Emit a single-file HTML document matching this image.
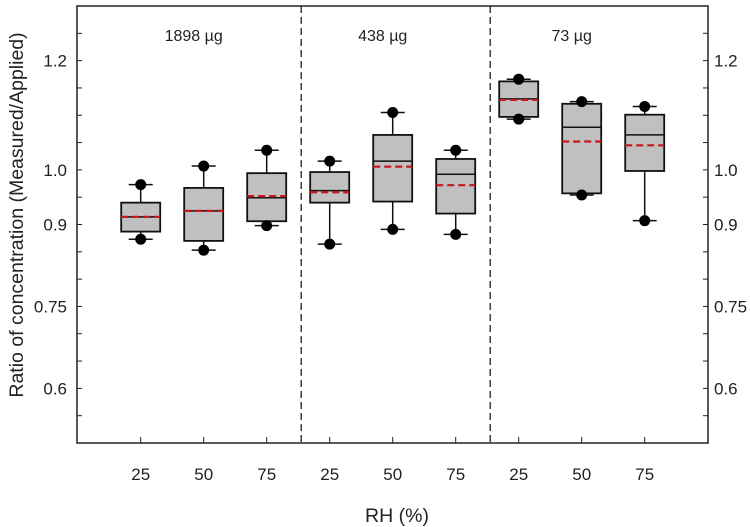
<!DOCTYPE html>
<html><head><meta charset="utf-8"><style>
body{margin:0;background:#fff}
svg{display:block;font-family:"Liberation Sans",sans-serif}
</style></head><body>
<svg id="chart" width="750" height="527"></svg>
<script>
const categories=["25","50","75","25","50","75","25","50","75"];
const groups=["1898 µg","438 µg","73 µg"];
const q1=[0.887,0.870,0.906,0.940,0.942,0.920,1.097,0.957,0.998];
const q3=[0.940,0.967,0.994,0.996,1.064,1.020,1.162,1.121,1.101];
const medians=[0.914,0.925,0.949,0.962,1.016,0.992,1.130,1.078,1.064];
const means=[0.914,0.925,0.952,0.959,1.006,0.972,1.128,1.052,1.045];
const whiskerHi=[0.973,1.007,1.036,1.016,1.105,1.036,1.166,1.125,1.116];
const whiskerLo=[0.873,0.853,0.898,0.864,0.891,0.882,1.093,0.954,0.907];
const yTickLabels=["0.6","0.75","0.9","1.0","1.2"];
const yTickValues=[0.6,0.75,0.9,1.0,1.2];

const NS="http://www.w3.org/2000/svg";
const svg=document.getElementById('chart');
const L=77,R=708,T=6,B=443;
const y=v=>T+(1.3-v)/(0.8)*(B-T);
const x=i=>140.7+63*i;
function el(tag,attrs,parent){const e=document.createElementNS(NS,tag);for(const k in attrs)e.setAttribute(k,attrs[k]);(parent||svg).appendChild(e);return e;}

const frame=el('rect',{x:L,y:T,width:R-L,height:B-T,fill:'none',stroke:'#222','stroke-width':1.5});



for(let k=0;k<=16;k++){
  const v=0.5+k*0.05; if(v<=0.5||v>=1.3) continue;
  const yy=y(v);
  const t1=el('line',{x1:L,x2:L+5,y1:yy,y2:yy,stroke:'#222','stroke-width':1});
  
  
  const t2=el('line',{x1:R-5,x2:R,y1:yy,y2:yy,stroke:'#222','stroke-width':1});
  
  
}
yTickLabels.forEach((lab,i)=>{
  const yy=y(yTickValues[i]);
  const a=el('text',{x:67,y:yy+6,'text-anchor':'end','font-size':17,fill:'#222'});a.textContent=lab;
  
  
  const b=el('text',{x:714,y:yy+6,'text-anchor':'start','font-size':17,fill:'#222'});b.textContent=lab;
  
  
});

categories.forEach((c,i)=>{
  const t=el('line',{x1:x(i),x2:x(i),y1:B-6,y2:B,stroke:'#222','stroke-width':1});
  
  
  const tx=el('text',{x:x(i),y:480,'text-anchor':'middle','font-size':17,fill:'#222'});tx.textContent=c;
  
  
});

[2.5,5.5].forEach(p=>{
  const d=el('line',{x1:x(p)+3,x2:x(p)+3,y1:T,y2:B,stroke:'#222','stroke-width':1.3,'stroke-dasharray':'7,4'});
  
  
});
groups.forEach((g,i)=>{
  const t=el('text',{x:x(i*3+1)-10,y:41,'text-anchor':'middle','font-size':16,fill:'#222'});t.textContent=g;
  
  
});

const hw=19.5;
categories.forEach((c,i)=>{
  const cx=x(i);
  const g=el('g',{});
  
  
  el('line',{x1:cx,x2:cx,y1:y(whiskerHi[i]),y2:y(q3[i]),stroke:'#111','stroke-width':1.5},g);
  el('line',{x1:cx,x2:cx,y1:y(q1[i]),y2:y(whiskerLo[i]),stroke:'#111','stroke-width':1.5},g);
  el('line',{x1:cx-12,x2:cx+12,y1:y(whiskerHi[i]),y2:y(whiskerHi[i]),stroke:'#111','stroke-width':1.5},g);
  el('line',{x1:cx-12,x2:cx+12,y1:y(whiskerLo[i]),y2:y(whiskerLo[i]),stroke:'#111','stroke-width':1.5},g);
  el('rect',{x:cx-hw,y:y(q3[i]),width:2*hw,height:y(q1[i])-y(q3[i]),fill:'#c0c0c0',stroke:'#111','stroke-width':1.8},g);
  el('line',{x1:cx-hw,x2:cx+hw,y1:y(medians[i]),y2:y(medians[i]),stroke:'#111','stroke-width':1.5},g);
  el('line',{x1:cx-hw,x2:cx+hw,y1:y(means[i]),y2:y(means[i]),stroke:'#c8161d','stroke-width':2.2,'stroke-dasharray':'7,4'},g);
  el('circle',{cx:cx,cy:y(whiskerHi[i]),r:5.5,fill:'#000'},g);
  el('circle',{cx:cx,cy:y(whiskerLo[i]),r:5.5,fill:'#000'},g);
});

const yt=el('text',{x:0,y:0,'text-anchor':'middle','font-size':19.5,fill:'#222',transform:'translate(23,215) rotate(-90)'});
yt.textContent='Ratio of concentration (Measured/Applied)';


const xt=el('text',{x:397,y:522,'text-anchor':'middle','font-size':19.5,fill:'#222'});
xt.textContent='RH (%)';


</script>
</body></html>
